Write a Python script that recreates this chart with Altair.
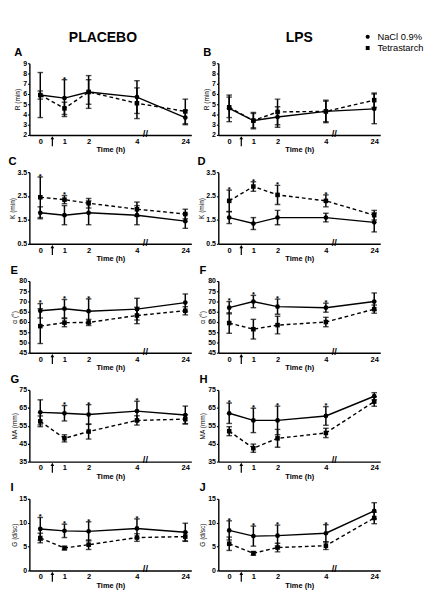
import altair as alt
import pandas as pd

FONT = "Liberation Sans"

# ---------------- data ----------------
times = [0, 1, 2, 4, 24]
time_pos = [0, 1, 2, 4, 6]          # broken axis: 24 h drawn after the break
lps_time_pos = [0.5]                # arrow (LPS / infusion time)
break_pos = [4.35]                  # axis break marker
groups = ["NaCl 0.9%", "Tetrastarch"]
column_titles = ["PLACEBO", "LPS"]

# A  R (min), placebo
A_nacl = [5.9, 5.6, 6.2, 5.7, 3.7]
A_nacl_sd = [2.2, 1.8, 1.6, 1.6, 0.7]
A_tetra = [5.9, 4.6, 6.2, 5.1, 4.3]
A_tetra_sd = [0.4, 0.6, 1.2, 1.5, 1.2]
A_stars = [1]
# B  R (min), LPS
B_nacl = [4.6, 3.4, 3.75, 4.3, 4.55]
B_nacl_sd = [1.3, 0.8, 1.0, 1.1, 1.45]
B_tetra = [4.7, 3.4, 4.25, 4.3, 5.4]
B_tetra_sd = [1.0, 0.7, 1.25, 1.0, 0.7]
B_stars = []
# C  K (min), placebo
C_nacl = [1.8, 1.7, 1.8, 1.7, 1.45]
C_nacl_sd = [0.25, 0.4, 0.5, 0.4, 0.3]
C_tetra = [2.45, 2.35, 2.2, 1.95, 1.75]
C_tetra_sd = [0.85, 0.17, 0.2, 0.3, 0.2]
C_stars = [0, 1]
# D  K (min), LPS
D_nacl = [1.6, 1.35, 1.6, 1.6, 1.4]
D_nacl_sd = [0.25, 0.25, 0.3, 0.18, 0.4]
D_tetra = [2.3, 2.9, 2.55, 2.3, 1.7]
D_tetra_sd = [0.45, 0.2, 0.4, 0.25, 0.2]
D_stars = [0, 1, 2, 4]
# E  alpha, placebo
E_nacl = [65.5, 66.5, 65.3, 66.3, 69.5]
E_nacl_sd = [3.5, 4.5, 6.0, 5.3, 4.2]
E_tetra = [58.0, 59.7, 59.8, 63.2, 65.5]
E_tetra_sd = [8.5, 2.0, 1.5, 4.0, 2.0]
E_stars = [0, 1, 2]
# F  alpha, LPS
F_nacl = [67.0, 70.0, 67.5, 67.0, 70.0]
F_nacl_sd = [3.0, 3.0, 3.7, 2.2, 4.2]
F_tetra = [59.5, 56.5, 58.5, 60.0, 66.3]
F_tetra_sd = [5.0, 4.8, 4.3, 2.3, 2.0]
F_stars = [0, 1, 2, 4]
# G  MA (mm), placebo
G_nacl = [62.5, 62.0, 61.3, 63.2, 61.0]
G_nacl_sd = [7.0, 4.3, 5.5, 5.5, 5.0]
G_tetra = [57.5, 48.0, 51.8, 58.0, 58.7]
G_tetra_sd = [3.0, 2.0, 4.2, 2.6, 2.5]
G_stars = [1, 2, 4]
# H  MA (mm), LPS
H_nacl = [62.0, 58.0, 58.0, 60.5, 71.5]
H_nacl_sd = [5.7, 6.8, 8.0, 5.2, 2.0]
H_tetra = [52.0, 42.5, 48.0, 51.0, 68.5]
H_tetra_sd = [2.5, 2.3, 5.0, 2.6, 2.6]
H_stars = [0, 1, 2, 4]
# I  G (d/sc), placebo
I_nacl = [8.7, 8.3, 8.2, 8.8, 8.0]
I_nacl_sd = [2.4, 1.4, 2.0, 2.0, 1.9]
I_tetra = [6.8, 4.7, 5.4, 6.9, 7.1]
I_tetra_sd = [1.0, 0.4, 1.0, 0.8, 0.9]
I_stars = [0, 1, 2, 4]
# J  G (d/sc), LPS
J_nacl = [8.4, 7.2, 7.3, 7.8, 12.5]
J_nacl_sd = [2.0, 2.1, 2.2, 1.8, 1.7]
J_tetra = [5.6, 3.6, 4.8, 5.2, 11.0]
J_tetra_sd = [1.4, 0.4, 0.9, 0.8, 1.2]
J_stars = [0, 1, 2, 4]

R_ticks = [2, 3, 4, 5, 6, 7, 8, 9]
K_ticks = [0.5, 1.5, 2.5, 3.5]
A_ticks = [45, 50, 55, 60, 65, 70, 75, 80]
MA_ticks = [35, 45, 55, 65, 75]
G_ticks = [0, 5, 10, 15]

# ---------------- layout ----------------
W, H = 174, 77
XDOM = [-0.45, 6.25]

PATH_NACL = ("M-1,0L1,0M-0.4,0A0.4,0.4,0,1,1,0.4,0"
             "A0.4,0.4,0,1,1,-0.4,0Z")
PATH_TETRA = ("M-1,0L-0.65,0M0.65,0L1,0"
              "M-0.38,-0.38L0.38,-0.38L0.38,0.38L-0.38,0.38Z")


def header(text, dx, legend=False):
    hd = alt.Chart(pd.DataFrame({"t": [text]})).mark_text(
        font=FONT, fontSize=15, fontWeight="bold", baseline="top",
        align="center").encode(text="t:N", x=alt.value(W / 2 + dx),
                               y=alt.value(0), color=alt.value("black"))
    layers = [hd]
    if legend:
        leg = alt.Chart(pd.DataFrame({"series": groups})).mark_point(
            filled=True, opacity=0, color="black").encode(
            x=alt.value(0), y=alt.value(0),
            shape=alt.Shape("series:N",
                            scale=alt.Scale(domain=groups,
                                            range=[PATH_NACL, PATH_TETRA]),
                            legend=alt.Legend(
                                title=None, orient="none", legendX=357,
                                legendY=0, symbolSize=121,
                                symbolFillColor="black",
                                symbolStrokeColor="black",
                                symbolStrokeWidth=1.5, symbolOpacity=1,
                                labelFont=FONT, labelFontSize=10,
                                labelColor="black", rowPadding=0,
                                labelOffset=4)))
        layers.append(leg)
    return alt.layer(*layers).properties(width=W, height=14)


def panel(letter, ytitle, ydom, yticks, yfmt, nacl, nacl_sd, tetra, tetra_sd,
          stars):
    rows = []
    for g, m, s in ((groups[0], nacl, nacl_sd), (groups[1], tetra, tetra_sd)):
        for t, p, mv, sv in zip(times, time_pos, m, s):
            rows.append({"time": t, "pos": p, "group": g, "mean": mv,
                         "lo": mv - sv, "hi": mv + sv})
    df = pd.DataFrame(rows)

    xs = alt.Scale(domain=XDOM, nice=False, zero=False)
    ys = alt.Scale(domain=ydom, nice=False, zero=False)
    xaxis = alt.Axis(values=time_pos,
                     labelExpr="datum.value == 6 ? '24' : format(datum.value, 'd')",
                     title="Time (h)", labelFontSize=8, labelFontWeight="bold",
                     titleFontSize=8, titleFontWeight="bold", ticks=False,
                     labelPadding=3, titlePadding=1, labelFlush=False,
                     labelOverlap=False)
    yaxis = alt.Axis(values=yticks, format=yfmt, title=ytitle,
                     labelFontSize=7.5, labelFontWeight="bold", titleFontSize=7,
                     titleFontWeight="normal", tickSize=2, labelPadding=1,
                     titlePadding=2, labelFlush=False, labelOverlap=False)
    X = alt.X("pos:Q", scale=xs, axis=xaxis)
    Y = alt.Y("mean:Q", scale=ys, axis=yaxis)

    base = alt.Chart(df)
    nacl_f = alt.datum.group == groups[0]
    tetra_f = alt.datum.group == groups[1]

    line_n = base.transform_filter(nacl_f).mark_line(
        color="black", strokeWidth=1.5).encode(x=X, y=Y)
    line_t = base.transform_filter(tetra_f).mark_line(
        color="black", strokeWidth=1.5, strokeDash=[4, 3]).encode(x=X, y=Y)
    bars = base.mark_rule(color="black", strokeWidth=1.6).encode(
        x=X, y=alt.Y("lo:Q", scale=ys, axis=yaxis), y2="hi:Q")
    cap_lo = base.mark_tick(orient="horizontal", color="black", size=6,
                            thickness=1.5).encode(
        x=X, y=alt.Y("lo:Q", scale=ys, axis=yaxis))
    cap_hi = base.mark_tick(orient="horizontal", color="black", size=6,
                            thickness=1.5).encode(
        x=X, y=alt.Y("hi:Q", scale=ys, axis=yaxis))
    pts_n = base.transform_filter(nacl_f).mark_point(
        shape="circle", filled=True, color="black", size=26, opacity=1).encode(x=X, y=Y)
    pts_t = base.transform_filter(tetra_f).mark_point(
        shape="square", filled=True, color="black", size=24, opacity=1).encode(x=X, y=Y)

    layers = [line_n, line_t, bars, cap_lo, cap_hi, pts_n, pts_t]

    if stars:
        star_df = (df[df.time.isin(stars)]
                   .groupby("pos", as_index=False)["hi"].max())
        layers.append(alt.Chart(star_df).mark_text(
            text="*", font=FONT, fontSize=8, fontWeight="bold",
            baseline="bottom", dy=4).encode(
            x=X, y=alt.Y("hi:Q", scale=ys, axis=yaxis),
            color=alt.value("black")))

    arr_df = pd.DataFrame({"pos": lps_time_pos})
    arrow_shaft = alt.Chart(arr_df).mark_rule(strokeWidth=1.3).encode(
        x=X, y=alt.value(H + 3), y2=alt.value(H + 12), color=alt.value("black"))
    arrow_head = alt.Chart(arr_df).mark_point(
        shape="triangle-up", filled=True, size=16, opacity=1).encode(
        x=X, y=alt.value(H + 3), color=alt.value("black"))
    brk = alt.Chart(pd.DataFrame({"pos": break_pos})).mark_text(
        text="//", font=FONT, fontSize=10, fontWeight="bold",
        baseline="middle").encode(x=X, y=alt.value(H - 1), color=alt.value("black"))
    layers += [arrow_shaft, arrow_head, brk]

    return alt.layer(*layers).properties(
        width=W, height=H,
        title=alt.Title(letter, anchor="start", frame="bounds", fontSize=12,
                        fontWeight="bold", font=FONT, offset=1, color="black"))


left = alt.vconcat(
    header(column_titles[0], -8),
    panel("A", "R (min)", [2, 9], R_ticks, "d", A_nacl, A_nacl_sd, A_tetra, A_tetra_sd, A_stars),
    panel("C", "K (min)", [0.5, 3.5], K_ticks, ".1f", C_nacl, C_nacl_sd, C_tetra, C_tetra_sd, C_stars),
    panel("E", "α (°)", [45, 80], A_ticks, "d", E_nacl, E_nacl_sd, E_tetra, E_tetra_sd, E_stars),
    panel("G", "MA (mm)", [35, 75], MA_ticks, "d", G_nacl, G_nacl_sd, G_tetra, G_tetra_sd, G_stars),
    panel("I", "G (d/sc)", [0, 15], G_ticks, "d", I_nacl, I_nacl_sd, I_tetra, I_tetra_sd, I_stars),
    spacing=2,
)
right = alt.vconcat(
    header(column_titles[1], 0, legend=True),
    panel("B", "R (min)", [2, 9], R_ticks, "d", B_nacl, B_nacl_sd, B_tetra, B_tetra_sd, B_stars),
    panel("D", "K (min)", [0.5, 3.5], K_ticks, ".1f", D_nacl, D_nacl_sd, D_tetra, D_tetra_sd, D_stars),
    panel("F", "α (°)", [45, 80], A_ticks, "d", F_nacl, F_nacl_sd, F_tetra, F_tetra_sd, F_stars),
    panel("H", "MA (mm)", [35, 75], MA_ticks, "d", H_nacl, H_nacl_sd, H_tetra, H_tetra_sd, H_stars),
    panel("J", "G (d/sc)", [0, 15], G_ticks, "d", J_nacl, J_nacl_sd, J_tetra, J_tetra_sd, J_stars),
    spacing=2,
)

chart = (
    alt.hconcat(left, right, spacing=6)
    .properties(padding=0)
    .configure_view(stroke=None)
    .configure_axis(domainColor="black", domainWidth=1.5, tickColor="black",
                    tickWidth=1.2, grid=False, labelFont=FONT, titleFont=FONT,
                    labelColor="black", titleColor="black")
)

chart.save("out.html", embed_options={"renderer": "svg", "actions": False})
